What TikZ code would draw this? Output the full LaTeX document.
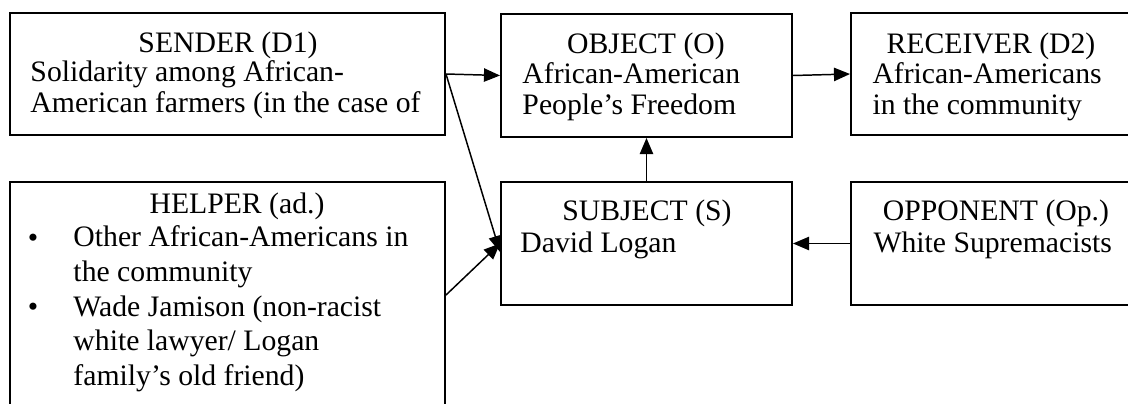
\documentclass[tikz,border=0pt]{standalone}
\usepackage{fontspec}
\setmainfont{Liberation Serif}
\usetikzlibrary{arrows.meta,fit}
\tikzset{
  box/.style={draw, line width=0.8pt, inner sep=0pt},
  txt/.style={font=\fontsize{12}{12.3}\selectfont, inner sep=0pt, align=left},
  listtxt/.style={font=\fontsize{12}{13.9}\selectfont, inner sep=0pt, align=left},
  link/.style={line width=0.6pt, -{Triangle[length=6.5pt,width=5.4pt]}},
}
\begin{document}
\begin{tikzpicture}[x=0.404pt,y=0.404pt,yscale=-1,xscale=1]
\useasboundingbox (0,0) rectangle (1128,404);
%Shape: Rectangle [sender]
\node[box, fit={(10,13) (445,135)}] (sender) {};
%Shape: Rectangle [object]
\node[box, fit={(501,14) (792,137)}] (object) {};
%Shape: Rectangle [receiver]
\node[box, fit={(851,13) (1135,135)}] (receiver) {};
%Shape: Rectangle [helper]
\node[box, fit={(10,182) (445,408)}] (helper) {};
%Shape: Rectangle [subject]
\node[box, fit={(501,182) (792,305)}] (subject) {};
%Shape: Rectangle [opponent]
\node[box, fit={(851,182) (1135,305)}] (opponent) {};
%Straight Lines
\draw[link] (sender.east) -- (object.west);
\draw[link] (sender.east) -- ([yshift=3.4pt]subject.west);
\draw[link] (helper.east) -- (subject.west);
\draw[link] (subject.north) -- (object.south);
\draw[link] (opponent.west) -- (subject.east);
\draw[link] (object.east) -- (receiver.west);
%Texts (multi-line nodes sit on the baseline of their last line)
\node[txt, anchor=base] (sendertitle) at (228,52) {SENDER (D1)};
\node[txt, anchor=base west] (senderbody) at (30,112) {Solidarity among African-\\American farmers (in the case of};
\node[txt, anchor=base] (objecttitle) at (646,53) {OBJECT (O)};
\node[txt, anchor=base west] (objectbody) at (522,114) {African-American\\People’s Freedom};
\node[txt, anchor=base] (receivertitle) at (991,53) {RECEIVER (D2)};
\node[txt, anchor=base west] (receiverbody) at (872,114) {African-Americans\\in the community};
\node[txt, anchor=base] (subjecttitle) at (647,220) {SUBJECT (S)};
\node[txt, anchor=base west] (subjectbody) at (520,252) {David Logan};
\node[txt, anchor=base] (opponenttitle) at (996,220) {OPPONENT (Op.)};
\node[txt, anchor=base west] (opponentbody) at (873,252) {White Supremacists};
\node[txt, anchor=base] (helpertitle) at (237,213) {HELPER (ad.)};
\node[listtxt, anchor=base] (bulleta) at (33,247) {•};
\node[listtxt, anchor=base west] (helpera) at (73,281) {Other African-Americans in\\the community};
\node[listtxt, anchor=base] (bulletb) at (33,316) {•};
\node[listtxt, anchor=base west] (helperb) at (73,385) {Wade Jamison (non-racist\\white lawyer/ Logan\\family’s old friend)};
\end{tikzpicture}
\end{document}
